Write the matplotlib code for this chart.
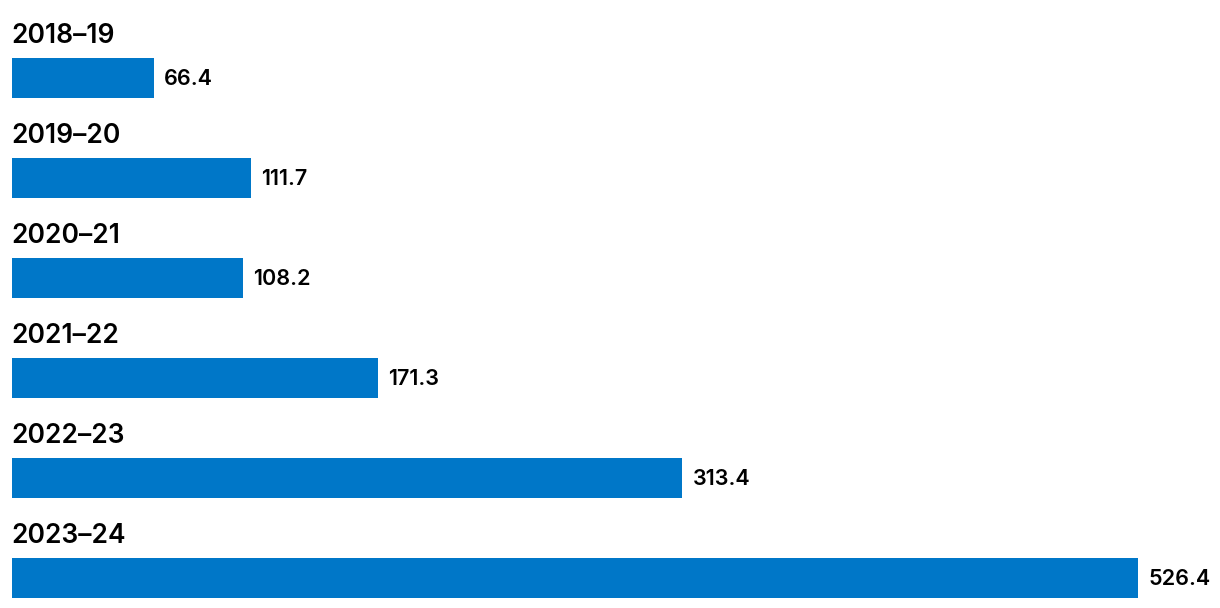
import numpy as np
import matplotlib.pyplot as plt

# 数据
years = ['2018–19', '2019–20', '2020–21', '2021–22', '2022–23', '2023–24']
values = [66.4, 111.7, 108.2, 171.3, 313.4, 526.4]

bar_color = '#0077C8'
W, H = 1220, 608
x0 = 12                      # 条形左边起点 (px)
k = 1126 / 526.4             # 每单位对应的像素

plt.rcParams['font.family'] = ['Inter', 'DejaVu Sans']

fig = plt.figure(figsize=(W / 100, H / 100), dpi=100)
ax = fig.add_axes([0, 0, 1, 1])
ax.set_xlim(-x0 / k, (W - x0) / k)
ax.set_ylim(H, 0)  # y 用像素坐标, 从上往下
ax.axis('off')

bar_y = 78 + 100 * np.arange(len(values))
ax.barh(bar_y, values, height=40, color=bar_color)

for y, yr, v in zip(bar_y, years, values):
    ax.text(-1 / k, y - 42, yr, ha='left', va='center', fontsize=19,
            fontweight='semibold', color='black')
    ax.text(v + 10 / k, y + 1, f'{v:.1f}', ha='left', va='center',
            fontsize=15.5, fontweight='semibold', color='black')

fig.savefig('out.png', dpi=100)
